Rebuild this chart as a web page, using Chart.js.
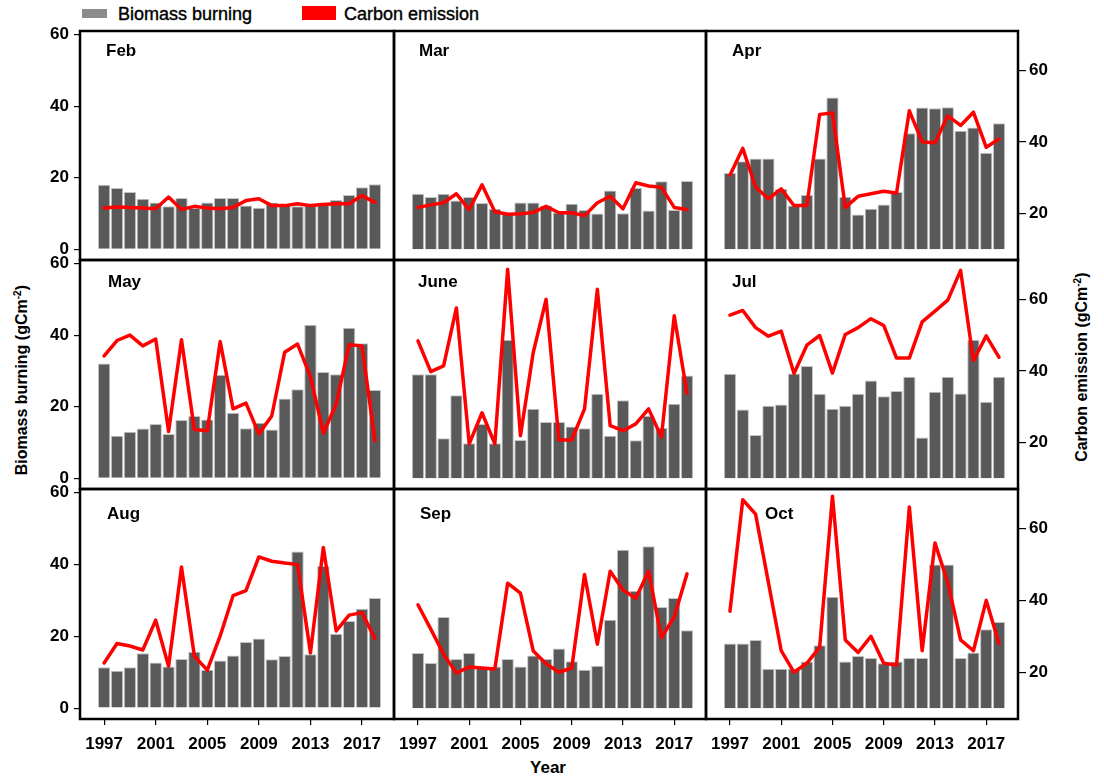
<!DOCTYPE html>
<html>
<head>
<meta charset="utf-8">
<script src="https://cdn.jsdelivr.net/npm/chart.js@4.4.1/dist/chart.umd.min.js"></script>
<style>
  body { margin: 0; background: #fff; width: 1104px; height: 777px; position: relative; overflow: hidden;
         font-family: "Liberation Sans", Arial, sans-serif; color: #000; }
  canvas { position: absolute; left: 0; top: 0; }
  .sw { position: absolute; }
  .leg { position: absolute; font-size: 18px; line-height: 18px; -webkit-text-stroke: 0.4px #000; }
  .atitle { position: absolute; width: 300px; text-align: center; font-size: 16px; font-weight: bold;
            line-height: 20px; transform: rotate(-90deg); white-space: nowrap; }
  .atitle sup { font-size: 10px; }
  #xtitle { position: absolute; left: 498px; top: 758px; width: 100px; text-align: center;
            font-size: 17px; font-weight: bold; }
</style>
</head>
<body>
<div class="sw" style="left:82px;top:9px;width:25px;height:9px;background:#8c8c8c"></div>
<div class="leg" style="left:118px;top:5px">Biomass burning</div>
<div class="sw" style="left:302px;top:6px;width:34px;height:14px;background:#ff0000"></div>
<div class="leg" style="left:344px;top:5px">Carbon emission</div>
<div class="atitle" style="left:-130px;top:368px">Biomass burning (gCm<sup>-2</sup>)</div>
<div class="atitle" style="left:930px;top:355px">Carbon emission (gCm<sup>-2</sup>)</div>
<div id="xtitle">Year</div>

<script>
// data
const years = [1997, 1998, 1999, 2000, 2001, 2002, 2003, 2004, 2005, 2006, 2007,
               2008, 2009, 2010, 2011, 2012, 2013, 2014, 2015, 2016, 2017, 2018];
const yearTicks = [1997, 2001, 2005, 2009, 2013, 2017];
const leftTicks = [0, 20, 40, 60];
const rightTicks = [20, 40, 60];
const months = ['Feb', 'Mar', 'Apr', 'May', 'June', 'Jul', 'Aug', 'Sep', 'Oct'];

const febBiomass = [18.0, 17.1, 16.0, 14.1, 13.1, 12.0, 14.3, 11.5, 13.1, 14.3, 14.3, 12.2, 11.6, 13.1, 12.4, 12.0, 12.7, 13.1, 13.8, 15.2, 17.3, 18.2];
const febCarbon  = [21.5, 21.8, 21.7, 21.5, 21.3, 24.6, 21.1, 22.0, 21.5, 21.3, 21.7, 23.6, 24.1, 22.2, 22.2, 22.7, 22.2, 22.5, 22.7, 22.7, 25.0, 23.1];
const marBiomass = [15.5, 14.6, 15.5, 13.6, 14.6, 12.9, 11.3, 9.9, 13.1, 13.1, 12.2, 10.3, 12.7, 11.0, 10.0, 16.4, 10.1, 17.1, 10.8, 19.0, 11.0, 19.1];
const marCarbon  = [21.7, 22.4, 23.0, 25.5, 21.1, 28.0, 20.5, 19.8, 19.9, 20.3, 22.0, 20.2, 20.2, 19.4, 23.0, 24.8, 21.3, 28.6, 27.7, 27.3, 21.7, 21.1];
const aprBiomass = [21.3, 24.6, 25.4, 25.4, 16.9, 12.2, 15.2, 25.4, 42.4, 14.7, 9.7, 11.3, 12.5, 16.0, 32.4, 39.6, 39.4, 39.7, 33.1, 34.0, 27.0, 35.2];
const aprCarbon  = [30.7, 38.2, 27.4, 24.1, 26.9, 22.2, 22.2, 47.7, 48.1, 21.7, 24.8, 25.5, 26.2, 25.7, 48.7, 40.0, 39.8, 47.3, 44.6, 48.3, 38.5, 40.8];
const mayBiomass = [32.1, 11.9, 13.0, 13.9, 15.2, 12.4, 16.3, 17.4, 16.4, 28.9, 18.3, 14.0, 15.5, 13.6, 22.3, 24.9, 42.9, 29.7, 29.1, 42.1, 37.7, 24.7];
const mayCarbon  = [44.2, 48.5, 50.0, 47.0, 48.9, 23.1, 48.7, 23.6, 23.3, 48.2, 29.4, 31.0, 22.4, 27.4, 45.2, 47.5, 38.4, 22.6, 30.8, 47.3, 47.0, 20.5];
const junBiomass = [29.1, 29.1, 11.2, 23.2, 9.8, 15.2, 9.8, 38.7, 10.7, 19.4, 15.7, 15.7, 14.5, 14.0, 23.6, 11.9, 21.8, 10.6, 17.5, 14.1, 20.8, 28.7];
const junCarbon  = [48.4, 39.8, 41.4, 57.6, 19.6, 28.3, 19.6, 68.4, 21.9, 45.2, 60.0, 20.7, 20.7, 29.4, 62.8, 24.7, 23.3, 25.2, 29.4, 21.5, 55.4, 33.7];
const julBiomass = [29.2, 19.2, 12.1, 20.3, 20.6, 29.3, 31.4, 23.6, 19.4, 20.3, 23.6, 27.3, 22.9, 24.4, 28.4, 11.4, 24.2, 28.4, 23.7, 38.7, 21.4, 28.4];
const julCarbon  = [55.6, 56.9, 52.1, 49.7, 51.1, 39.3, 47.2, 49.9, 39.4, 50.2, 52.1, 54.6, 52.7, 43.6, 43.6, 53.7, 56.7, 59.8, 68.1, 42.9, 49.8, 43.8];
const augBiomass = [11.4, 10.4, 11.4, 15.3, 12.7, 11.6, 13.7, 15.7, 10.7, 13.3, 14.7, 18.4, 19.4, 13.6, 14.5, 43.6, 15.0, 39.6, 20.7, 24.3, 27.7, 30.7];
const augCarbon  = [22.6, 28.0, 27.3, 26.2, 34.5, 21.7, 49.3, 24.5, 20.6, 30.1, 41.3, 42.7, 52.1, 50.9, 50.4, 50.0, 25.4, 54.7, 31.5, 35.9, 36.6, 29.4];
const sepBiomass = [15.4, 12.6, 25.4, 13.7, 15.4, 11.5, 11.6, 13.7, 11.6, 14.7, 13.7, 16.6, 13.1, 10.7, 11.8, 24.6, 44.1, 32.7, 45.1, 28.2, 30.7, 21.7];
const sepCarbon  = [38.8, 32.0, 25.0, 19.8, 21.5, 21.2, 20.9, 44.8, 42.0, 25.9, 22.4, 20.0, 21.2, 47.2, 27.8, 48.1, 42.9, 40.6, 48.1, 29.6, 35.4, 47.4];
const octBiomass = [18.0, 18.0, 19.0, 11.0, 11.0, 11.0, 13.0, 17.5, 31.0, 13.0, 14.5, 14.0, 12.5, 13.0, 14.0, 14.0, 40.0, 40.0, 14.0, 15.5, 22.0, 24.0];
const octCarbon  = [37.0, 68.0, 64.0, 45.0, 26.0, 20.0, 22.5, 27.0, 69.0, 29.0, 25.5, 30.0, 22.5, 22.0, 66.0, 26.0, 56.0, 45.0, 29.0, 26.0, 40.0, 28.0];

const biomassByMonth = [febBiomass, marBiomass, aprBiomass, mayBiomass, junBiomass, julBiomass, augBiomass, sepBiomass, octBiomass];
const carbonByMonth = [febCarbon, marCarbon, aprCarbon, mayCarbon, junCarbon, julCarbon, augCarbon, sepCarbon, octCarbon];

// layout of the 3x3 grid (page pixels)
const colEdges = [80, 394, 706, 1018];
const rowEdges = [31, 260, 489, 719];
const titleDx = [26, 25, 26, 28, 24, 26, 27, 26, 59];
const titleDy = [12, 12, 12, 14, 14, 14, 17, 17, 17];
const leftW = 60, rightW = 60, bottomH = 45;
const font = '"Liberation Sans", Arial, sans-serif';

const panelFrame = {
  id: 'panelFrame',
  afterDraw(chart, args, opts) {
    const ctx = chart.ctx;
    const a = chart.chartArea;
    ctx.save();
    ctx.strokeStyle = '#000';
    ctx.lineWidth = 2.5;
    ctx.strokeRect(a.left, a.top, a.right - a.left, a.bottom - a.top);
    ctx.fillStyle = '#000';
    ctx.font = 'bold 17px ' + font;
    ctx.textBaseline = 'top';
    ctx.fillText(opts.title, a.left + opts.dx, a.top + opts.dy);
    ctx.restore();
  }
};

function tickFont() {
  return { family: font, size: 17, weight: 'bold' };
}

function makePanel(i) {
  const col = i % 3, row = Math.floor(i / 3);
  const showLeft = col === 0, showRight = col === 2, showX = row === 2;
  const cv = document.createElement('canvas');
  cv.width = 1104;
  cv.height = 777;
  document.body.appendChild(cv);

  const bars = years.map((y, k) => ({ x: y, y: biomassByMonth[i][k] }));
  const line = years.map((y, k) => ({ x: y, y: carbonByMonth[i][k] }));

  new Chart(cv.getContext('2d'), {
    data: {
      datasets: [
        { type: 'line', label: 'Carbon emission', data: line, yAxisID: 'yR', order: 0,
          borderColor: '#ff0000', borderWidth: 3.5, pointRadius: 0, tension: 0,
          borderJoinStyle: 'round', borderCapStyle: 'round' },
        { type: 'bar', label: 'Biomass burning', data: bars, yAxisID: 'yL', order: 1,
          backgroundColor: '#595959', borderColor: '#c4c4c4', borderWidth: 1,
          categoryPercentage: 1, barPercentage: 0.96 }
      ]
    },
    options: {
      responsive: false,
      animation: false,
      events: [],
      layout: {
        padding: {
          left: colEdges[col] - (showLeft ? leftW : 0),
          right: 1104 - colEdges[col + 1] - (showRight ? rightW : 0),
          top: rowEdges[row],
          bottom: 777 - rowEdges[row + 1] - (showX ? bottomH : 0)
        }
      },
      plugins: {
        legend: { display: false },
        tooltip: { enabled: false },
        panelFrame: { title: months[i], dx: titleDx[i], dy: titleDy[i] }
      },
      scales: {
        x: {
          type: 'linear', min: 1995.13, max: 2019.48, display: showX, offset: false,
          border: { display: false },
          grid: { offset: false, drawOnChartArea: false, drawTicks: true, tickLength: 6, color: '#000', lineWidth: 1.2 },
          afterBuildTicks: s => { s.ticks = yearTicks.map(v => ({ value: v })); },
          afterFit: s => { s.height = showX ? bottomH : 0; },
          ticks: { font: tickFont(), color: '#000', padding: 9, maxRotation: 0, autoSkip: false,
                   callback: v => String(v) }
        },
        yL: {
          type: 'linear', position: 'left', min: -3, max: 61, display: showLeft,
          border: { display: false },
          grid: { drawOnChartArea: false, drawTicks: true, tickLength: 6, color: '#000', lineWidth: 1.2 },
          afterBuildTicks: s => { s.ticks = leftTicks.map(v => ({ value: v })); },
          afterFit: s => { s.width = showLeft ? leftW : 0; },
          ticks: { font: tickFont(), color: '#000', padding: 5, callback: v => String(v) }
        },
        yR: {
          type: 'linear', position: 'right', min: 7, max: 71, display: showRight,
          border: { display: false },
          grid: { drawOnChartArea: false, drawTicks: true, tickLength: 8, color: '#000', lineWidth: 1.2 },
          afterBuildTicks: s => { s.ticks = rightTicks.map(v => ({ value: v })); },
          afterFit: s => { s.width = showRight ? rightW : 0; },
          ticks: { font: tickFont(), color: '#000', padding: 3, callback: v => String(v) }
        }
      }
    },
    plugins: [panelFrame]
  });
}

for (let i = 0; i < months.length; i++) {
  makePanel(i);
}
</script>
</body>
</html>
